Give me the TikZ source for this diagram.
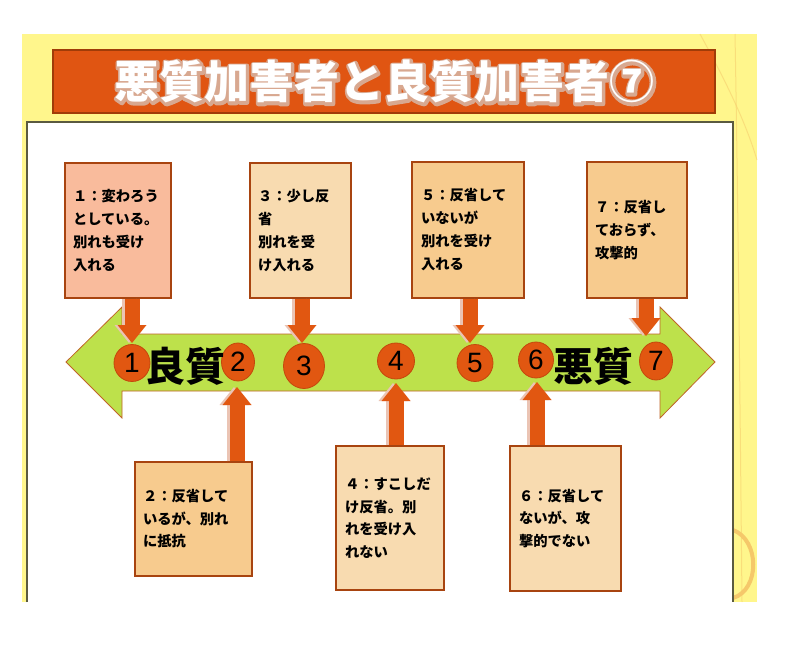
\documentclass[tikz,border=0pt]{standalone}
\usepackage{fontspec}
\setmainfont{Noto Sans CJK JP}
\newfontfamily\ziffern{Liberation Sans}
\usetikzlibrary{arrows.meta,shapes.geometric}
\definecolor{hintergelb}{HTML}{FFF68C}
\definecolor{gelbstrich}{HTML}{F5C86A}
\definecolor{panelrand}{HTML}{5A5A40}
\definecolor{titelrot}{HTML}{E05512}
\definecolor{titelkante}{HTML}{A03C08}
\definecolor{titelumriss}{HTML}{D8A890}
\definecolor{gruen}{HTML}{BDE14B}
\definecolor{gruenkante}{HTML}{C06428}
\definecolor{orangerot}{HTML}{E15711}
\definecolor{kreisrand}{HTML}{C4480C}
\definecolor{schattenrosa}{HTML}{EBC4B4}
\definecolor{kastenrand}{HTML}{A84410}
\definecolor{lachs}{HTML}{F9BB9C}
\definecolor{pfirsich}{HTML}{F8DBB0}
\definecolor{hellbraun}{HTML}{F7CB8E}
% Umrissschrift fuer den Titel
\newcommand\umriss[1]{\special{pdf:literal 2 Tr 5 w 1 j}#1\special{pdf:literal 0 Tr}}
\tikzset{
  kasten/.style      = {draw=kastenrand, line width=1.5pt, inner xsep=8pt, inner ysep=0pt,
                        align=left, font=\bfseries\fontsize{14.3}{23}\selectfont},
  kastenunten/.style = {kasten, font=\bfseries\fontsize{14.3}{22.5}\selectfont},
  kreis/.style       = {ellipse, draw=kreisrand, fill=orangerot, line width=0.8pt, inner sep=0pt,
                        font=\ziffern\fontsize{28}{28}\selectfont},
  blockpfeil/.style  = {draw=orangerot, line width=15pt,
                        -{Triangle[length=18pt, width=29pt, line width=0pt]}},
  pfeilschatten/.style = {blockpfeil, draw=schattenrosa, transform canvas={xshift=-3pt}},
  grosswort/.style   = {font=\bfseries\fontsize{40}{40}\selectfont, inner sep=0pt},
  titeltext/.style   = {font=\bfseries\fontsize{45}{45}\selectfont, inner sep=0pt}
}
\begin{document}
\begin{tikzpicture}[x=1pt, y=-1pt]
  \useasboundingbox (0,0) rectangle (795,660);
  % Hintergrund
  \fill[hintergelb] (22,34) rectangle (757,602);
  \draw[gelbstrich, line width=1pt, opacity=0.5] (700,34) .. controls (725,80) and (745,120) .. (757,160);
  \draw[gelbstrich, line width=1pt, opacity=0.5] (735,34) .. controls (738,200) and (740,400) .. (742,602);
  \draw[gelbstrich, line width=4pt] (733,530) .. controls (760,540) and (760,590) .. (733,598);
  \fill[white] (27,122) rectangle (733,602);
  \draw[panelrand, line width=2pt] (27,602) -- (27,122) -- (733,122) -- (733,602);

  % Titel
  \node[fill=titelrot, draw=titelkante, line width=1.2pt, minimum width=662pt,
        minimum height=63pt] (titel) at (384,81.5) {};
  \node[titeltext, text=titelumriss, xshift=1pt, yshift=-1pt] (titelrand) at (titel.center) {\umriss{悪質加害者と良質加害者⑦}};
  \node[titeltext, text=white] (titelwort) at (titel.center) {悪質加害者と良質加害者⑦};

  % Doppelpfeil
  \draw[fill=gruen, draw=gruenkante, line width=0.8pt]
    (66,362) -- (122,307) -- (122,334) -- (660,334) -- (660,307) -- (715,362)
    -- (660,418) -- (660,391) -- (122,391) -- (122,418) -- cycle;

  % Kaesten
  \node[kasten, fill=lachs, minimum width=106pt, minimum height=135pt, text width=90pt]
    (b1) at (118,230.5) {１：変わろう\\としている。\\別れも受け\\入れる};
  \node[kasten, fill=pfirsich, minimum width=101pt, minimum height=135pt, text width=85pt]
    (b3) at (300.5,230.5) {３：少し反\\省\\別れを受\\け入れる};
  \node[kasten, fill=hellbraun, minimum width=112pt, minimum height=136pt, text width=94pt, inner xsep=9pt]
    (b5) at (468,230) {５：反省して\\いないが\\別れを受け\\入れる};
  \node[kasten, fill=hellbraun, minimum width=100pt, minimum height=136pt, text width=84pt]
    (b7) at (637,230) {７：反省し\\ておらず、\\攻撃的};
  \node[kastenunten, fill=hellbraun, minimum width=117pt, minimum height=114pt, text width=101pt]
    (b2) at (193.5,519) {２：反省して\\いるが、別れ\\に抵抗};
  \node[kastenunten, fill=pfirsich, minimum width=108pt, minimum height=144pt, text width=90pt, inner xsep=9pt]
    (b4) at (390,518) {４：すこしだ\\け反省。別\\れを受け入\\れない};
  \node[kastenunten, fill=pfirsich, minimum width=111pt, minimum height=145pt, text width=93pt, inner xsep=9pt]
    (b6) at (565.5,518.5) {６：反省して\\ないが、攻\\撃的でない};

  % Pfeilspitzen
  \coordinate (t1) at (132,343);
  \coordinate (t3) at (302,343);
  \coordinate (t5) at (470,343);
  \coordinate (t7) at (646,336);
  \coordinate (t2) at (237,387);
  \coordinate (t4) at (396,383);
  \coordinate (t6) at (537,382);

  \foreach \k in {1,3,5,7}
    \draw[pfeilschatten] (b\k.south -| t\k) -- (t\k);
  \foreach \k in {2,4,6}
    \draw[pfeilschatten] (b\k.north -| t\k) -- (t\k);
  \foreach \k in {1,3,5,7}
    \draw[blockpfeil] (b\k.south -| t\k) -- (t\k);
  \foreach \k in {2,4,6}
    \draw[blockpfeil] (b\k.north -| t\k) -- (t\k);

  % Kreise
  \node[kreis, minimum width=36pt, minimum height=37pt] (k1) at (132,363) {1};
  \node[kreis, minimum width=33pt, minimum height=38pt] (k2) at (238,362) {2};
  \node[kreis, minimum width=41pt, minimum height=45pt] (k3) at (304,366) {3};
  \node[kreis, minimum width=37pt, minimum height=36pt] (k4) at (396,361) {4};
  \node[kreis, minimum width=36pt, minimum height=37pt] (k5) at (475,363) {5};
  \node[kreis, minimum width=35pt, minimum height=36pt] (k6) at (536,360) {6};
  \node[kreis, minimum width=33pt, minimum height=38pt] (k7) at (656,361) {7};

  \node[grosswort] (gut) at (185,366) {良質};
  \node[grosswort] (boese) at (593,366) {悪質};
\end{tikzpicture}
\end{document}
